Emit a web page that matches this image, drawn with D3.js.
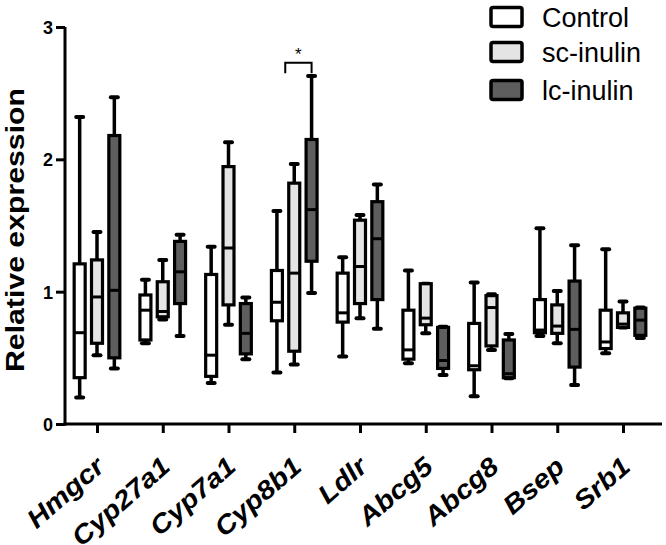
<!DOCTYPE html>
<html><head><meta charset="utf-8">
<script src="https://cdn.jsdelivr.net/npm/d3@7"></script>
<style>
html,body{margin:0;padding:0;background:#fff;}
svg{display:block;font-family:"Liberation Sans",Arial,sans-serif;}
</style></head>
<body><svg id="c" width="666" height="545"></svg>
<script>
const categories = ["Hmgcr","Cyp27a1","Cyp7a1","Cyp8b1","Ldlr","Abcg5","Abcg8","Bsep","Srb1"];
const seriesNames = ["Control","sc-inulin","lc-inulin"];
// [min, q1, median, q3, max]
const controlBoxes = [
  [0.20,0.35,0.69,1.21,2.32],[0.61,0.635,0.86,0.975,1.09],[0.31,0.36,0.52,1.13,1.34],
  [0.39,0.78,0.92,1.16,1.61],[0.51,0.77,0.84,1.14,1.26],[0.46,0.49,0.56,0.86,1.16],
  [0.21,0.41,0.44,0.76,1.07],[0.665,0.69,0.71,0.94,1.48],[0.535,0.57,0.62,0.86,1.32]];
const scInulinBoxes = [
  [0.52,0.61,0.96,1.24,1.45],[0.79,0.81,0.85,1.075,1.24],[0.75,0.90,1.33,1.945,2.13],
  [0.45,0.55,1.14,1.82,1.965],[0.80,0.91,1.19,1.54,1.58],[0.685,0.75,0.80,1.06,1.06],
  [0.56,0.59,0.88,0.97,0.98],[0.61,0.685,0.74,0.90,1.005],[0.73,0.73,0.755,0.84,0.925]];
const lcInulinBoxes = [
  [0.42,0.50,1.01,2.18,2.47],[0.665,0.91,1.15,1.38,1.43],[0.49,0.53,0.685,0.91,0.955],
  [0.99,1.23,1.62,2.15,2.63],[0.72,0.94,1.40,1.68,1.81],[0.37,0.42,0.48,0.73,0.735],
  [0.345,0.35,0.38,0.635,0.68],[0.295,0.43,0.715,1.08,1.35],[0.65,0.67,0.785,0.875,0.88]];
const yTicks = [0,1,2,3];
const yLabel = "Relative expression";
const sigCategory = "Cyp8b1";
const sigLevel = [2.65, 2.73];
const sigText = "*";

const fills = ["#ffffff","#e4e4e4","#5e5e5e"];
const allSeries = [controlBoxes, scInulinBoxes, lcInulinBoxes];

const svg = d3.select("#c");
const x = d3.scalePoint().domain(categories).range([97, 623]);
const inner = d3.scaleBand().domain(seriesNames).range([-26, 26]);
const y = d3.scaleLinear().domain([0,3]).range([424, 27]);
const AX = 65;

// boxes
const boxW = 11;
seriesNames.forEach((s, si) => {
  const data = allSeries[si];
  const g = svg.append("g");
  categories.forEach((c, ci) => {
    const d = data[ci];
    const cx = x(c) + inner(s) + inner.bandwidth()/2;
    const b = g.append("g");
    b.append("line").attr("x1",cx).attr("x2",cx).attr("y1",y(d[4])).attr("y2",y(d[3]))
      .attr("stroke","#000").attr("stroke-width",3.5);
    b.append("line").attr("x1",cx).attr("x2",cx).attr("y1",y(d[1])).attr("y2",y(d[0]))
      .attr("stroke","#000").attr("stroke-width",3.5);
    [d[0], d[4]].forEach(v => {
      b.append("line").attr("x1",cx-3.5).attr("x2",cx+3.5).attr("y1",y(v)).attr("y2",y(v))
        .attr("stroke","#000").attr("stroke-width",4).attr("stroke-linecap","round");
    });
    b.append("rect").attr("x",cx-boxW/2).attr("width",boxW)
      .attr("y",y(d[3])).attr("height",Math.max(1,y(d[1])-y(d[3])))
      .attr("fill",fills[si]).attr("stroke","#000").attr("stroke-width",3.2);
    b.append("line").attr("x1",cx-boxW/2).attr("x2",cx+boxW/2).attr("y1",y(d[2])).attr("y2",y(d[2]))
      .attr("stroke","#000").attr("stroke-width",3);
  });
});

// y axis
const yAxis = svg.append("g").attr("transform",`translate(${AX},0)`)
  .call(d3.axisLeft(y).tickValues(yTicks).tickFormat(d3.format("d")).tickSize(9).tickSizeOuter(0).tickPadding(3));
yAxis.select(".domain").attr("stroke","#000").attr("stroke-width",3).attr("d",`M0,${y(3)}V${y(0)+1.5}`);
yAxis.selectAll(".tick line").attr("stroke","#000").attr("stroke-width",3);
yAxis.selectAll(".tick text").attr("font-size",18).attr("font-weight","bold").attr("fill","#000")
  .attr("font-family","'Liberation Sans',Arial,sans-serif").attr("dy","0.36em");

// x axis
const xAxis = svg.append("g").attr("transform",`translate(0,${y(0)})`)
  .call(d3.axisBottom(x).tickSize(9).tickSizeOuter(0).tickFormat(""));
xAxis.select(".domain").attr("stroke","#000").attr("stroke-width",3).attr("d",`M${AX-1.5},0H662`);
xAxis.selectAll(".tick line").attr("stroke","#000").attr("stroke-width",3);

// x labels
svg.append("g").selectAll("text").data(categories).join("text")
  .attr("transform", c => `translate(${x(c)+9},${469}) rotate(-41) scale(1.12,1)`)
  .attr("text-anchor","end")
  .attr("font-size",26).attr("font-weight","bold").attr("font-style","italic").attr("fill","#000")
  .text(c => c);

// y title
svg.append("text").attr("transform","translate(24,230) rotate(-90)")
  .attr("text-anchor","middle").attr("font-size",26).attr("font-weight","bold").attr("fill","#000")
  .attr("textLength",284).attr("lengthAdjust","spacingAndGlyphs")
  .text(yLabel);

// significance bracket
const bx = x(sigCategory);
const bl = bx - 9, br = bx + inner("lc-inulin") + inner.bandwidth()/2;
svg.append("path").attr("d",`M${bl},${y(sigLevel[0])}V${y(sigLevel[1])}H${br}V${y(sigLevel[0])}`)
  .attr("fill","none").attr("stroke","#000").attr("stroke-width",2);
svg.append("text").attr("x",(bl+br)/2).attr("y",y(sigLevel[1])-3).attr("text-anchor","middle")
  .attr("font-size",17).attr("fill","#000").text(sigText);

// legend
const lg = svg.append("g");
const legY = [17, 52, 90];
seriesNames.forEach((s, i) => {
  lg.append("rect").attr("x",491).attr("y",legY[i]-9.5).attr("width",31).attr("height",19)
    .attr("rx",2).attr("fill",fills[i]).attr("stroke","#000").attr("stroke-width",3.5);
  lg.append("text").attr("x",542).attr("y",legY[i]+9.5).attr("font-size",27).attr("fill","#000").text(s);
});
</script></body></html>
